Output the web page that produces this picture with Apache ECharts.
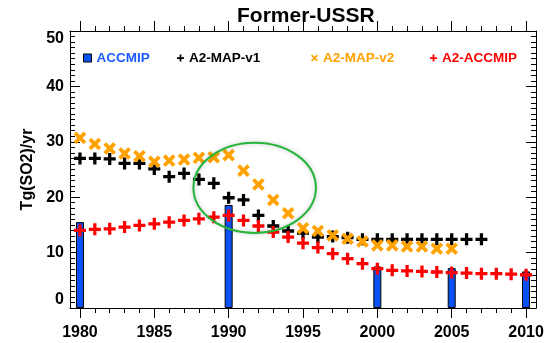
<!DOCTYPE html>
<html>
<head>
<meta charset="utf-8">
<script src="https://cdn.jsdelivr.net/npm/echarts@6/dist/echarts.min.js"></script>
<style>html,body{margin:0;padding:0;background:#fff;}#c{width:554px;height:343px;}</style>
</head>
<body>
<div id="c"></div>
<script>
// ---- data ----
const titleText = 'Former-USSR';
const yAxisName = 'Tg(SO2)/yr';
const majorYears = [1980, 1985, 1990, 1995, 2000, 2005, 2010];
const minorYears = [1980,1981,1982,1983,1984,1985,1986,1987,1988,1989,1990,1991,1992,1993,1994,1995,1996,1997,1998,1999,2000,2001,2002,2003,2004,2005,2006,2007,2008,2009,2010];

const accmipYears = [1980, 1990, 2000, 2005, 2010];
const accmipValues = [15.5, 18.6, 7.5, 7.2, 6.6];

const mapV1Years = [1980,1981,1982,1983,1984,1985,1986,1987,1988,1989,1990,1991,1992,1993,1994,1995,1996,1997,1998,1999,2000,2001,2002,2003,2004,2005,2006,2007];
const mapV1Values = [27.0,27.0,26.9,26.1,26.1,25.1,23.7,24.3,23.2,22.5,19.9,19.5,16.7,14.8,13.9,13.5,12.8,12.9,12.7,12.4,12.4,12.4,12.4,12.4,12.4,12.4,12.4,12.4];

const mapV2Years = [1980,1981,1982,1983,1984,1985,1986,1987,1988,1989,1990,1991,1992,1993,1994,1995,1996,1997,1998,1999,2000,2001,2002,2003,2004,2005];
const mapV2Values = [30.7,29.6,28.8,27.9,27.4,26.4,26.6,26.8,27.1,27.2,27.6,24.8,22.3,19.5,17.1,14.4,13.9,13.1,12.5,12.0,11.3,11.3,11.1,11.1,10.7,10.7];

const a2AccmipYears = [1980,1981,1982,1983,1984,1985,1986,1987,1988,1989,1990,1991,1992,1993,1994,1995,1996,1997,1998,1999,2000,2001,2002,2003,2004,2005,2006,2007,2008,2009,2010];
const a2AccmipValues = [14.0,14.2,14.3,14.6,14.9,15.2,15.5,15.8,16.1,16.4,16.7,15.8,14.8,13.7,12.8,11.7,10.9,9.8,8.9,8.0,7.1,6.8,6.7,6.6,6.5,6.4,6.3,6.2,6.2,6.1,6.0];

// annotation ellipse (data coordinates)
const ellipseCenter = [1991.75, 21.7];
const ellipseRadii = [4.12, 8.14];

// ---- styles ----
const F = '"Liberation Sans", Arial, Helvetica, sans-serif';
const BLUE = '#0a52f5';
const ORANGE = '#ffa200';
const RED = '#ff0000';
const BLACK = '#000000';
const GREEN = '#25b53a';
const PLUS = 'path://M4,0H7V4H11V7H7V11H4V7H0V4H4Z';
const PLUS_ICON = 'path://M3,0H5V3H8V5H5V8H3V5H0V3H3Z';
const X_ICON = 'path://M0,1.4L1.4,0L4,2.6L6.6,0L8,1.4L5.4,4L8,6.6L6.6,8L4,5.4L1.4,8L0,6.6L2.6,4Z';
const XMIN = 1979.33, XMAX = 2010.67;

function zip(a, b) { return a.map((v, i) => [v, b[i]]); }

const baseX = {
  type: 'value', min: XMIN, max: XMAX, gridIndex: 0,
  splitLine: { show: false }
};

const chart = echarts.init(document.getElementById('c'), null, { renderer: 'canvas' });
const option = {
  animation: false,
  backgroundColor: '#fff',
  title: {
    text: titleText, left: 237, top: 6, padding: 0,
    textStyle: { fontSize: 21, fontWeight: 'bold', color: BLACK, fontFamily: F }
  },
  grid: { left: 70, right: 18, top: 31, bottom: 35 },
  legend: [
    { data: ['ACCMIP'], left: 83, top: 51, padding: 0, selectedMode: false, icon: 'rect', itemWidth: 8, itemHeight: 8,
      itemStyle: { borderColor: BLACK, borderWidth: 1 },
      textStyle: { color: '#1a5cff', fontSize: 13.5, fontWeight: 'bold', fontFamily: F } },
    { data: ['A2-MAP-v1'], left: 177, top: 51, padding: 0, selectedMode: false, icon: PLUS_ICON, itemWidth: 7, itemHeight: 7,
      itemStyle: { color: BLACK },
      textStyle: { color: BLACK, fontSize: 13.5, fontWeight: 'bold', fontFamily: F } },
    { data: ['A2-MAP-v2'], left: 311, top: 51, padding: 0, selectedMode: false, icon: X_ICON, itemWidth: 7, itemHeight: 7,
      itemStyle: { color: ORANGE },
      textStyle: { color: ORANGE, fontSize: 13.5, fontWeight: 'bold', fontFamily: F } },
    { data: ['A2-ACCMIP'], left: 430, top: 51, padding: 0, selectedMode: false, icon: PLUS_ICON, itemWidth: 7, itemHeight: 7,
      itemStyle: { color: RED },
      textStyle: { color: RED, fontSize: 13.5, fontWeight: 'bold', fontFamily: F } }
  ],
  xAxis: [
    Object.assign({}, baseX, {
      position: 'bottom',
      axisLine: { show: true, onZero: false, lineStyle: { color: BLACK, width: 1 } },
      axisTick: { show: true, customValues: majorYears, length: 10, inside: false, lineStyle: { color: BLACK, width: 1 } },
      axisLabel: { show: true, customValues: majorYears, formatter: v => String(Math.round(v)),
        margin: 17, fontSize: 16, fontWeight: 'bold', color: BLACK, fontFamily: F }
    }),
    Object.assign({}, baseX, {
      position: 'bottom',
      axisLine: { show: false, onZero: false },
      axisTick: { show: true, customValues: minorYears, length: 5, inside: false, lineStyle: { color: BLACK, width: 1 } },
      axisLabel: { show: false }
    }),
    Object.assign({}, baseX, {
      position: 'top',
      axisLine: { show: true, onZero: false, lineStyle: { color: BLACK, width: 1 } },
      axisTick: { show: true, customValues: majorYears, length: 10, inside: false, lineStyle: { color: BLACK, width: 1 } },
      axisLabel: { show: false }
    }),
    Object.assign({}, baseX, {
      position: 'top',
      axisLine: { show: false, onZero: false },
      axisTick: { show: true, customValues: minorYears, length: 5, inside: false, lineStyle: { color: BLACK, width: 1 } },
      axisLabel: { show: false }
    })
  ],
  yAxis: [
    {
      type: 'value', min: 0, max: 50, interval: 10, position: 'left',
      name: yAxisName, nameLocation: 'middle', nameGap: 27, nameRotate: 90,
      nameTextStyle: { fontSize: 16, fontWeight: 'bold', color: BLACK, fontFamily: F },
      axisLine: { show: true, onZero: false, lineStyle: { color: BLACK, width: 1 } },
      axisTick: { show: true, inside: true, length: 10, lineStyle: { color: BLACK, width: 1 } },
      minorTick: { show: true, splitNumber: 10, length: 5, lineStyle: { color: BLACK, width: 1 } },
      axisLabel: { show: true, margin: 6, fontSize: 16, fontWeight: 'bold', color: BLACK, fontFamily: F,
        verticalAlignMinLabel: 'bottom', verticalAlignMaxLabel: 'top' },
      splitLine: { show: false }, minorSplitLine: { show: false }
    },
    {
      type: 'value', min: 0, max: 50, interval: 10, position: 'right',
      axisLine: { show: true, onZero: false, lineStyle: { color: BLACK, width: 1 } },
      axisTick: { show: true, inside: true, length: 10, lineStyle: { color: BLACK, width: 1 } },
      minorTick: { show: true, splitNumber: 10, length: 5, lineStyle: { color: BLACK, width: 1 } },
      axisLabel: { show: false },
      splitLine: { show: false }, minorSplitLine: { show: false }
    }
  ],
  series: [
    { name: 'ACCMIP', type: 'bar', xAxisIndex: 0, yAxisIndex: 0, barWidth: 8,
      data: zip(accmipYears, accmipValues),
      itemStyle: { color: BLUE, borderColor: BLACK, borderWidth: 1 } },
    { name: 'A2-MAP-v1', type: 'scatter', xAxisIndex: 0, yAxisIndex: 0, symbol: PLUS, symbolSize: 12,
      data: zip(mapV1Years, mapV1Values), itemStyle: { color: BLACK, opacity: 1 } },
    { name: 'A2-MAP-v2', type: 'scatter', xAxisIndex: 0, yAxisIndex: 0, symbol: PLUS, symbolSize: 14, symbolRotate: 45,
      data: zip(mapV2Years, mapV2Values), itemStyle: { color: ORANGE, opacity: 1 } },
    { name: 'A2-ACCMIP', type: 'scatter', xAxisIndex: 0, yAxisIndex: 0, symbol: PLUS, symbolSize: 12,
      data: zip(a2AccmipYears, a2AccmipValues), itemStyle: { color: RED, opacity: 1 } }
  ]
};
chart.setOption(option);

// annotation ellipse positioned through the chart's own scales
const c0 = chart.convertToPixel({ xAxisIndex: 0, yAxisIndex: 0 }, ellipseCenter);
const c1 = chart.convertToPixel({ xAxisIndex: 0, yAxisIndex: 0 }, [ellipseCenter[0] + ellipseRadii[0], ellipseCenter[1] + ellipseRadii[1]]);
chart.setOption({
  graphic: [{
    type: 'ellipse', z: 100, silent: true,
    shape: { cx: c0[0], cy: c0[1], rx: Math.abs(c1[0] - c0[0]), ry: Math.abs(c0[1] - c1[1]) },
    style: { fill: 'none', stroke: GREEN, lineWidth: 2, shadowBlur: 4, shadowColor: 'rgba(0,0,0,0.25)' }
  }]
});
</script>
</body>
</html>
